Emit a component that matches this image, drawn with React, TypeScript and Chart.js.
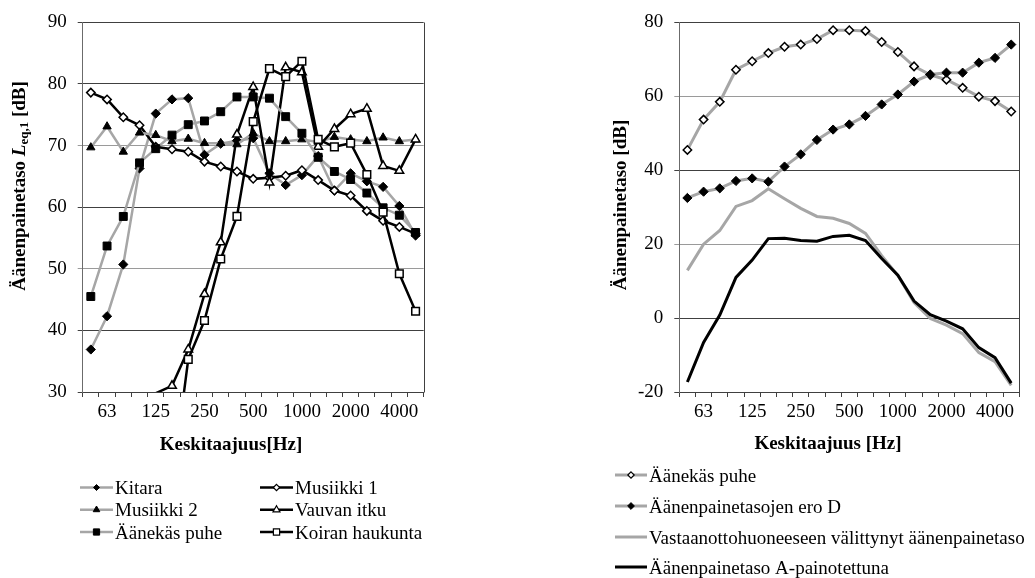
import React, { useEffect, useRef } from 'react';
import { Chart, registerables } from 'chart.js';

Chart.register(...registerables);

// ---------------- DATA ----------------
const freqLabels = ['50', '63', '80', '100', '125', '160', '200', '250', '315', '400', '500', '630', '800', '1000', '1250', '1600', '2000', '2500', '3150', '4000', '5000'];

// Left chart (L_eq,1 per source)
const kitara = [36.9, 42.3, 50.7, 66.3, 75.2, 77.5, 77.7, 68.5, 70.3, 70.8, 71.2, 65.5, 63.6, 65.2, 68.3, 62.7, 65.5, 64.2, 63.3, 60.2, 55.4];
const musiikki1 = [78.6, 77.5, 74.6, 73.3, 69.8, 69.4, 69.0, 67.4, 66.6, 65.8, 64.6, 64.8, 65.1, 66.0, 64.4, 62.7, 61.9, 59.4, 57.8, 56.8, 55.7];
const musiikki2 = [69.7, 73.1, 69.0, 72.1, 71.7, 70.7, 71.1, 70.4, 70.4, 70.2, 72.0, 70.7, 70.7, 71.0, 70.6, 71.4, 71.0, 70.7, 71.3, 70.7, 71.0];
const vauvanItku = [null, null, null, null, 29.8, 31.0, 36.9, 45.9, 54.3, 71.8, 79.5, 64.0, 82.7, 81.9, 69.8, 72.7, 75.1, 76.0, 66.7, 65.9, 71.0];
const aanekasPuhe = [45.5, 53.7, 58.5, 67.2, 69.5, 71.7, 73.4, 74.0, 75.5, 77.9, 77.9, 77.7, 74.7, 72.0, 68.1, 65.8, 64.5, 62.3, 59.9, 58.7, 55.9];
const koiranHaukunta = [null, null, null, null, null, 15.0, 35.3, 41.6, 51.6, 58.5, 73.9, 82.5, 81.2, 83.7, 71.0, 69.8, 70.4, 65.3, 59.2, 49.2, 43.1];

// Right chart
const eroD = [32.5, 34.2, 35.1, 37.1, 37.8, 36.9, 41.0, 44.3, 48.2, 51.0, 52.4, 54.7, 57.8, 60.5, 64.0, 65.9, 66.4, 66.4, 69.1, 70.4, 74.0];
const vastaanotto = [12.9, 20.0, 23.7, 30.2, 31.8, 35.0, 32.3, 29.7, 27.5, 27.0, 25.6, 22.9, 16.9, 11.5, 4.2, -0.1, -1.9, -4.2, -9.3, -11.8, -18.2];
const aPainotettu = [-17.3, -6.6, 0.8, 11.0, 15.7, 21.5, 21.6, 21.0, 20.8, 22.1, 22.4, 21.0, 16.1, 11.6, 4.6, 0.9, -0.8, -2.9, -8.0, -10.7, -17.6];

const leftTicks = { min: 30, max: 90, step: 10 };
const rightTicks = { min: -20, max: 80, step: 20 };

// ---------------- STYLE ----------------
const FONT = "'Liberation Serif', 'Times New Roman', serif";
const GRAY = '#a6a6a6';
const BLACK = '#000000';
const GRID_DARK = '#404040';
const GRID_LIGHT = '#9a9a9a';

type MarkerKind = 'diamond' | 'square' | 'triangle' | null;

const pointStyleOf = (m: MarkerKind) =>
  m === 'diamond' ? 'rectRot' : m === 'square' ? 'rect' : m === 'triangle' ? 'triangle' : 'circle';

function drawMarker(ctx: CanvasRenderingContext2D, kind: MarkerKind, x: number, y: number, r: number, fill: string, stroke: string, lw: number) {
  if (!kind) return;
  ctx.beginPath();
  if (kind === 'diamond') {
    ctx.moveTo(x, y - r);
    ctx.lineTo(x + r, y);
    ctx.lineTo(x, y + r);
    ctx.lineTo(x - r, y);
    ctx.closePath();
  } else if (kind === 'square') {
    const s = r * Math.SQRT1_2;
    ctx.rect(x - s, y - s, 2 * s, 2 * s);
  } else {
    ctx.moveTo(x, y - r);
    ctx.lineTo(x + 0.866 * r, y + 0.5 * r);
    ctx.lineTo(x - 0.866 * r, y + 0.5 * r);
    ctx.closePath();
  }
  ctx.fillStyle = fill;
  ctx.fill();
  ctx.lineWidth = lw;
  ctx.strokeStyle = stroke;
  ctx.stroke();
}

interface Seg { text: string; font: string; dy?: number }
interface LegendItem {
  label: string; color: string; width: number;
  marker: MarkerKind; mr: number; mfill: string; mstroke: string; mlw: number;
  x: number; y: number; len: number; tx: number;
}
interface DecorCfg {
  yTitle: { cx: number; cy: number; segs: Seg[] };
  xTitle: { cx: number; baseline: number; text: string };
  legend: LegendItem[];
}

function decorPlugin(cfg: DecorCfg) {
  return {
    id: 'decor',
    afterDraw(chart: any) {
      const ctx: CanvasRenderingContext2D = chart.ctx;
      const a = chart.chartArea;
      ctx.save();
      // right border of the plot area
      ctx.strokeStyle = GRID_DARK;
      ctx.lineWidth = 1;
      const xr = Math.round(a.right) + 0.5;
      ctx.beginPath();
      ctx.moveTo(xr, Math.round(a.top) + 0.5);
      ctx.lineTo(xr, Math.round(a.bottom) + 0.5);
      ctx.stroke();

      // y title (rotated, mixed fonts)
      ctx.save();
      ctx.translate(cfg.yTitle.cx, cfg.yTitle.cy);
      ctx.rotate(-Math.PI / 2);
      const widths = cfg.yTitle.segs.map(s => { ctx.font = s.font; return ctx.measureText(s.text).width; });
      const total = widths.reduce((p, c) => p + c, 0);
      let x = -total / 2;
      ctx.textBaseline = 'middle';
      ctx.textAlign = 'left';
      ctx.fillStyle = BLACK;
      cfg.yTitle.segs.forEach((s, i) => {
        ctx.font = s.font;
        ctx.fillText(s.text, x, s.dy || 0);
        x += widths[i];
      });
      ctx.restore();

      // x title
      ctx.font = `bold 19px ${FONT}`;
      ctx.fillStyle = BLACK;
      ctx.textAlign = 'center';
      ctx.textBaseline = 'alphabetic';
      ctx.fillText(cfg.xTitle.text, cfg.xTitle.cx, cfg.xTitle.baseline);

      // legend
      cfg.legend.forEach(it => {
        ctx.strokeStyle = it.color;
        ctx.lineWidth = it.width;
        ctx.beginPath();
        ctx.moveTo(it.x, it.y);
        ctx.lineTo(it.x + it.len, it.y);
        ctx.stroke();
        drawMarker(ctx, it.marker, it.x + it.len / 2, it.y, it.mr, it.mfill, it.mstroke, it.mlw);
        ctx.font = `19px ${FONT}`;
        ctx.fillStyle = BLACK;
        ctx.textAlign = 'left';
        ctx.textBaseline = 'alphabetic';
        ctx.fillText(it.label, it.tx, it.y + 6.5);
      });
      ctx.restore();
    },
  };
}

interface SeriesDef {
  label: string; data: (number | null)[]; color: string; width: number;
  marker: MarkerKind; r: number; fill: string; stroke: string; blw: number;
}

function makeDataset(s: SeriesDef, min: number) {
  return {
    label: s.label,
    data: s.data,
    borderColor: s.color,
    borderWidth: s.width,
    tension: 0,
    fill: false,
    spanGaps: false,
    clip: 0,
    pointStyle: pointStyleOf(s.marker),
    pointRadius: (c: any) => (!s.marker || c.raw === null || c.raw < min ? 0 : s.r),
    pointHoverRadius: (c: any) => (!s.marker || c.raw === null || c.raw < min ? 0 : s.r),
    pointBackgroundColor: s.fill,
    pointBorderColor: s.stroke,
    pointBorderWidth: s.blw,
  };
}

function makeOptions(tk: { min: number; max: number; step: number }, yWidth: number, rightPad: number, lightVals: number[]) {
  return {
    responsive: false,
    animation: false as const,
    devicePixelRatio: 1,
    layout: { padding: { left: 0, right: rightPad, top: 18, bottom: 0 } },
    plugins: { legend: { display: false }, tooltip: { enabled: false }, title: { display: false } },
    events: [],
    scales: {
      x: {
        type: 'category' as const,
        offset: true,
        grid: { offset: true, drawOnChartArea: false, drawTicks: true, tickLength: 5, color: GRID_DARK },
        border: { display: true, color: GRID_DARK },
        ticks: {
          autoSkip: false, maxRotation: 0, minRotation: 0, padding: 4,
          font: { family: FONT, size: 19 }, color: BLACK,
          callback: (_v: any, i: number) => (i % 3 === 1 ? freqLabels[i] : ''),
        },
        afterFit: (s: any) => { s.height = 186; },
      },
      y: {
        min: tk.min, max: tk.max,
        ticks: { stepSize: tk.step, padding: 11, font: { family: FONT, size: 19 }, color: BLACK },
        grid: {
          drawTicks: true, tickLength: 5,
          color: (c: any) => (lightVals.includes(c.tick?.value) ? GRID_LIGHT : GRID_DARK),
        },
        border: { display: true, color: '#6b6b6b' },
        afterFit: (s: any) => { s.width = yWidth; },
      },
    },
  };
}

function leftConfig(): any {
  const series: SeriesDef[] = [
    { label: 'Koiran haukunta', data: koiranHaukunta, color: BLACK, width: 2.5, marker: 'square', r: 5.4, fill: '#fff', stroke: BLACK, blw: 1.5 },
    { label: 'Äänekäs puhe', data: aanekasPuhe, color: GRAY, width: 2.5, marker: 'square', r: 5.6, fill: BLACK, stroke: BLACK, blw: 1 },
    { label: 'Vauvan itku', data: vauvanItku, color: BLACK, width: 2.5, marker: 'triangle', r: 5, fill: '#fff', stroke: BLACK, blw: 1.5 },
    { label: 'Musiikki 2', data: musiikki2, color: GRAY, width: 2.5, marker: 'triangle', r: 4.8, fill: BLACK, stroke: BLACK, blw: 1 },
    { label: 'Musiikki 1', data: musiikki1, color: BLACK, width: 2.5, marker: 'diamond', r: 4.2, fill: '#fff', stroke: BLACK, blw: 1.5 },
    { label: 'Kitara', data: kitara, color: GRAY, width: 2.5, marker: 'diamond', r: 4.6, fill: BLACK, stroke: BLACK, blw: 1 },
  ];
  const col = [80, 260];
  const rows = [487.5, 509.8, 532];
  const li = (label: string, color: string, marker: MarkerKind, mr: number, mfill: string, c: number, r: number): LegendItem => ({
    label, color, width: 2.5, marker, mr, mfill, mstroke: BLACK, mlw: mfill === '#fff' ? 1.2 : 1,
    x: col[c], y: rows[r], len: 33, tx: col[c] + 35,
  });
  const legend: LegendItem[] = [
    li('Kitara', GRAY, 'diamond', 3, BLACK, 0, 0),
    li('Musiikki 2', GRAY, 'triangle', 3.8, BLACK, 0, 1),
    li('Äänekäs puhe', GRAY, 'square', 4.4, BLACK, 0, 2),
    li('Musiikki 1', BLACK, 'diamond', 3.2, '#fff', 1, 0),
    li('Vauvan itku', BLACK, 'triangle', 4, '#fff', 1, 1),
    li('Koiran haukunta', BLACK, 'square', 4.4, '#fff', 1, 2),
  ];
  return {
    type: 'line',
    data: { labels: freqLabels, datasets: series.map(s => makeDataset(s, leftTicks.min)) },
    options: makeOptions(leftTicks, 82.7, 520 - 423.7, [50, 70]),
    plugins: [decorPlugin({
      yTitle: {
        cx: 20, cy: 186,
        segs: [
          { text: 'Äänenpainetaso ', font: `bold 19px ${FONT}` },
          { text: 'L', font: `italic bold 19px ${FONT}` },
          { text: 'eq,1', font: `bold 13px ${FONT}`, dy: 5 },
          { text: ' [dB]', font: `bold 19px ${FONT}` },
        ],
      },
      xTitle: { cx: 231, baseline: 450, text: 'Keskitaajuus[Hz]' },
      legend,
    })],
  };
}

function rightConfig(): any {
  const series: SeriesDef[] = [
    { label: 'Äänenpainetaso A-painotettuna', data: aPainotettu, color: BLACK, width: 3, marker: null, r: 0, fill: BLACK, stroke: BLACK, blw: 0 },
    { label: 'Vastaanottohuoneeseen välittynyt äänenpainetaso', data: vastaanotto, color: GRAY, width: 3, marker: null, r: 0, fill: GRAY, stroke: GRAY, blw: 0 },
    { label: 'Äänenpainetasojen ero D', data: eroD, color: GRAY, width: 3, marker: 'diamond', r: 4.6, fill: BLACK, stroke: BLACK, blw: 1 },
    { label: 'Äänekäs puhe', data: aanekasPuhe, color: GRAY, width: 3, marker: 'diamond', r: 4.2, fill: '#fff', stroke: BLACK, blw: 1.5 },
  ];
  const rows = [475, 506, 537, 567];
  const x0 = 95;
  const legend: LegendItem[] = [
    { label: 'Äänekäs puhe', color: GRAY, width: 3, marker: 'diamond', mr: 3.2, mfill: '#fff', mstroke: BLACK, mlw: 1.2, x: x0, y: rows[0], len: 32, tx: x0 + 34 },
    { label: 'Äänenpainetasojen ero D', color: GRAY, width: 3, marker: 'diamond', mr: 3.4, mfill: BLACK, mstroke: BLACK, mlw: 1, x: x0, y: rows[1], len: 32, tx: x0 + 34 },
    { label: 'Vastaanottohuoneeseen välittynyt äänenpainetaso', color: GRAY, width: 3, marker: null, mr: 0, mfill: GRAY, mstroke: GRAY, mlw: 0, x: x0, y: rows[2], len: 32, tx: x0 + 34 },
    { label: 'Äänenpainetaso A-painotettuna', color: BLACK, width: 3, marker: null, mr: 0, mfill: BLACK, mstroke: BLACK, mlw: 0, x: x0, y: rows[3], len: 32, tx: x0 + 34 },
  ];
  return {
    type: 'line',
    data: { labels: freqLabels, datasets: series.map(s => makeDataset(s, rightTicks.min)) },
    options: makeOptions(rightTicks, 159.3, 515 - 499.3, [20, 60]),
    plugins: [decorPlugin({
      yTitle: {
        cx: 101, cy: 205,
        segs: [{ text: 'Äänenpainetaso [dB]', font: `bold 19px ${FONT}` }],
      },
      xTitle: { cx: 308, baseline: 449, text: 'Keskitaajuus [Hz]' },
      legend,
    })],
  };
}

export default function App() {
  const leftRef = useRef<HTMLCanvasElement>(null);
  const rightRef = useRef<HTMLCanvasElement>(null);

  useEffect(() => {
    const c1 = new Chart(leftRef.current as HTMLCanvasElement, leftConfig());
    const c2 = new Chart(rightRef.current as HTMLCanvasElement, rightConfig());
    return () => {
      c1.destroy();
      c2.destroy();
    };
  }, []);

  return (
    <div style={{ position: 'fixed', left: 0, top: 0, width: 1035, height: 578, background: '#ffffff', overflow: 'hidden' }}>
      <canvas ref={leftRef} width={520} height={578} style={{ position: 'absolute', left: 0, top: 0, width: 520, height: 578 }} />
      <canvas ref={rightRef} width={515} height={578} style={{ position: 'absolute', left: 520, top: 0, width: 515, height: 578 }} />
    </div>
  );
}
